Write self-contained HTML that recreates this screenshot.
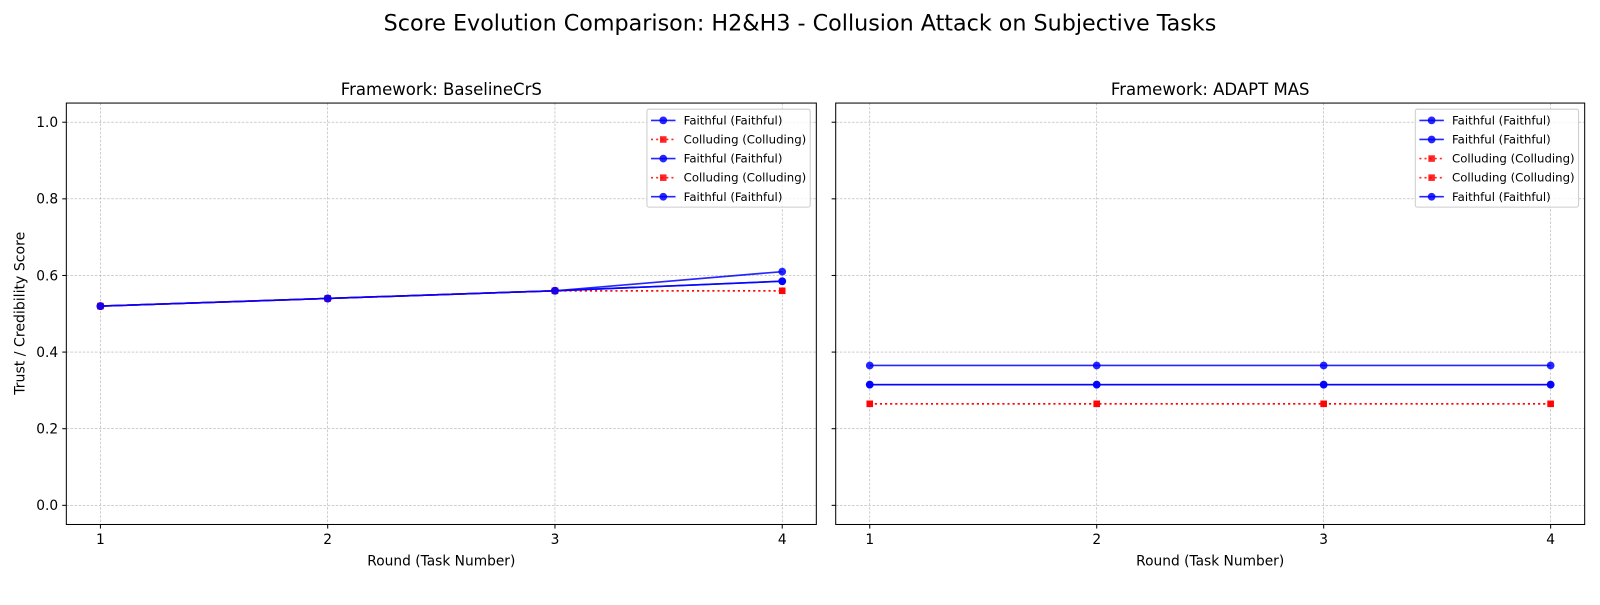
<!DOCTYPE html>
<html><head><meta charset="utf-8"><style>
body{margin:0;background:#fff;}
svg{font-family:"DejaVu Sans","Liberation Sans",sans-serif;}
</style></head><body>
<svg width="1600" height="600" xmlns="http://www.w3.org/2000/svg">
<g id="c" transform="scale(1.0204)">
<text x="784" y="30" font-size="21.8" text-anchor="middle">Score Evolution Comparison: H2&amp;H3 - Collusion Attack on Subjective Tasks</text>
</g>
</svg>
<script>
const rounds=[1,2,3,4];
const yTicks=[0.0,0.2,0.4,0.6,0.8,1.0];
const panelTitles=["Framework: BaselineCrS","Framework: ADAPT MAS"];
const leftKinds=["f","c","f","c","f"];
const leftNames=["Faithful (Faithful)","Colluding (Colluding)","Faithful (Faithful)","Colluding (Colluding)","Faithful (Faithful)"];
const left1=[0.52,0.54,0.56,0.61];
const left2=[0.52,0.54,0.56,0.56];
const left3=[0.52,0.54,0.56,0.585];
const left4=[0.52,0.54,0.56,0.56];
const left5=[0.52,0.54,0.56,0.585];
const rightKinds=["f","f","c","c","f"];
const rightNames=["Faithful (Faithful)","Faithful (Faithful)","Colluding (Colluding)","Colluding (Colluding)","Faithful (Faithful)"];
const right1=[0.365,0.365,0.365,0.365];
const right2=[0.315,0.315,0.315,0.315];
const right3=[0.265,0.265,0.265,0.265];
const right4=[0.265,0.265,0.265,0.265];
const right5=[0.315,0.315,0.315,0.315];

const svgEl=document.getElementById('c');
const NS='http://www.w3.org/2000/svg';
function mk(tag,attrs,parent){const e=document.createElementNS(NS,tag);for(const k in attrs)e.setAttribute(k,attrs[k]);(parent||svgEl).appendChild(e);return e;}
const plotTop=101,plotBot=514;
function yS(v){return plotBot-(v+0.05)/1.1*(plotBot-plotTop);}
function panel(x0,x1,title,kinds,names,series,showY,pi){
  const g=mk('g',{});
  
  
  const xS=v=>x0+(v-0.85)/3.3*(x1-x0);
  yTicks.forEach(t=>{
    const y=yS(t);
    const gl=mk('line',{x1:x0,x2:x1,y1:y,y2:y,stroke:'#b0b0b0','stroke-width':0.6,'stroke-dasharray':'2.5,1.5'},g);
    
    
    mk('line',{x1:x0-4,x2:x0,y1:y,y2:y,stroke:'#000'},g);
    if(showY){const tx=mk('text',{x:x0-8,y:y+4.8,'font-size':13.5,'text-anchor':'end'},g);tx.textContent=t.toFixed(1);
      
      }
  });
  rounds.forEach(r=>{
    const x=xS(r);
    const gl=mk('line',{x1:x,x2:x,y1:plotTop,y2:plotBot,stroke:'#b0b0b0','stroke-width':0.6,'stroke-dasharray':'2.5,1.5'},g);
    
    
    mk('line',{x1:x,x2:x,y1:plotBot,y2:plotBot+4,stroke:'#000'},g);
    const tx=mk('text',{x:x,y:plotBot+19,'font-size':13.5,'text-anchor':'middle'},g);tx.textContent=r;
    
    
  });
  series.forEach((s,i)=>{
    const f=kinds[i]==='f';
    const col=f?'#0000ff':'#ff0000';
    const pl=mk('polyline',{points:s.map((v,j)=>xS(rounds[j])+','+yS(v)).join(' '),fill:'none',stroke:col,'stroke-opacity':0.85,'stroke-width':1.6,'stroke-dasharray':f?'none':'2,3'},g);
    
    
    s.forEach((v,j)=>{
      const m=f?mk('circle',{cx:xS(rounds[j]),cy:yS(v),r:3.8,fill:col,'fill-opacity':0.85},g)
               :mk('rect',{x:xS(rounds[j])-3.2,y:yS(v)-3.2,width:6.4,height:6.4,fill:col,'fill-opacity':0.85},g);
      
      
    });
  });
  const fr=mk('rect',{x:x0,y:plotTop,width:x1-x0,height:plotBot-plotTop,fill:'none',stroke:'#000','stroke-width':1},g);
  
  
  const tt=mk('text',{x:(x0+x1)/2,y:93,'font-size':16.2,'text-anchor':'middle'},g);tt.textContent=title;
  
  
  const xl=mk('text',{x:(x0+x1)/2,y:554,'font-size':13.5,'text-anchor':'middle'},g);xl.textContent='Round (Task Number)';
  
  
  const lx=x1-166,ly=107;
  const lg=mk('g',{},g);
  
  
  mk('rect',{x:lx,y:ly,width:160,height:96,rx:2,fill:'#fff','fill-opacity':0.8,stroke:'#ccc'},lg);
  names.forEach((n,i)=>{
    const f=kinds[i]==='f',col=f?'#0000ff':'#ff0000',y=ly+11+i*18.7;
    const e=mk('g',{},lg);
    
    
    mk('line',{x1:lx+4,x2:lx+28,y1:y,y2:y,stroke:col,'stroke-opacity':0.85,'stroke-width':1.6,'stroke-dasharray':f?'none':'2,3'},e);
    if(f)mk('circle',{cx:lx+16,cy:y,r:3.8,fill:col,'fill-opacity':0.85},e);
    else mk('rect',{x:lx+12.8,y:y-3.2,width:6.4,height:6.4,fill:col,'fill-opacity':0.85},e);
    const t=mk('text',{x:lx+36,y:y+4,'font-size':11.5},e);t.textContent=n;
  });
}
panel(65,800,panelTitles[0],leftKinds,leftNames,[left1,left2,left3,left4,left5],true,0);
panel(819,1553,panelTitles[1],rightKinds,rightNames,[right1,right2,right3,right4,right5],false,1);
const yl=mk('text',{x:24,y:307,'font-size':13.8,'text-anchor':'middle',transform:'rotate(-90 24 307)'});
yl.textContent='Trust / Credibility Score';


</script>
</body></html>
